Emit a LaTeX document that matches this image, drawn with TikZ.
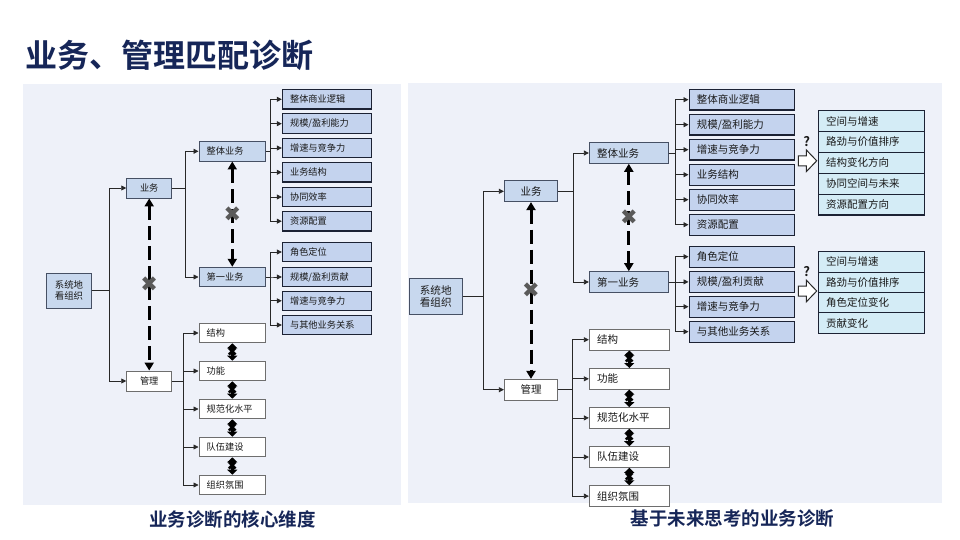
\documentclass[tikz,border=0pt]{standalone}
\usepackage{fontspec}
\setmainfont{Noto Sans CJK SC}[BoldFont={Noto Sans CJK SC Bold}]
\newfontfamily\symf{DejaVu Sans}
\usetikzlibrary{arrows.meta}
\definecolor{panelC}{RGB}{238,241,249}
\definecolor{titleC}{RGB}{22,38,88}
\definecolor{leafF}{RGB}{196,211,238}
\definecolor{leafD}{RGB}{28,34,52}
\definecolor{midF}{RGB}{200,216,238}
\definecolor{midD}{RGB}{70,80,100}
\definecolor{wD}{RGB}{110,110,110}
\definecolor{cyanF}{RGB}{212,236,246}
\definecolor{lineC}{RGB}{40,40,40}
\definecolor{xC}{RGB}{90,90,90}
\definecolor{txtC}{RGB}{25,25,25}
\tikzset{
  fL/.style={font=\fontsize{9.2}{11.7}\selectfont, text=txtC},
  fR/.style={font=\fontsize{10.5}{12.5}\selectfont, text=txtC},
  leafbox/.style={draw=leafD, fill=leafF, line width=1.1pt, inner ysep=0pt, inner xsep=7.7pt, align=left},
  midbox/.style={draw=midD, fill=midF, line width=0.9pt, inner ysep=0pt, inner xsep=7.7pt, align=left},
  whitebox/.style={draw=wD, fill=white, line width=0.9pt, inner ysep=0pt, inner xsep=7.7pt, align=left},
  cyanbox/.style={draw=leafD, fill=cyanF, line width=1.1pt, inner ysep=0pt, inner xsep=7.7pt, align=left},
  leafL/.style={leafbox, fL, minimum height=19.5pt, text width=73.9pt},
  midL/.style={midbox, fL, minimum height=19.5pt, text width=51.3pt},
  ctrL/.style={midbox, fL, minimum height=20pt, minimum width=45pt, inner xsep=0pt, align=center},
  whL/.style={whitebox, fL, minimum height=19.7pt, text width=51.3pt},
  whctrL/.style={whitebox, fL, minimum height=20pt, minimum width=45pt, inner xsep=0pt, align=center},
  leafR/.style={leafbox, fR, minimum height=20.7pt, text width=89.9pt},
  midR/.style={midbox, fR, minimum height=20.7pt, text width=63.6pt},
  ctrR/.style={midbox, fR, minimum height=20.7pt, minimum width=53.3pt, inner xsep=0pt, align=center},
  whR/.style={whitebox, fR, minimum height=20.7pt, text width=64.6pt},
  whctrR/.style={whitebox, fR, minimum height=20.7pt, minimum width=53.3pt, inner xsep=0pt, align=center},
  cyR/.style={cyanbox, fR, text width=90.6pt},
  conn/.style={draw=lineC, line width=0.8pt, -{Triangle[length=5pt,width=5pt]}},
  dasharrow/.style={draw=black, line width=3pt, dash pattern=on 14pt off 6pt,
     {Triangle[length=8pt,width=9pt]}-{Triangle[length=8pt,width=9pt]}},
  dblarrow/.style={draw=black, line width=3.2pt,
     {Triangle[length=5pt,width=10pt]}-{Triangle[length=5pt,width=10pt]}},
  xmark/.style={font=\symf\fontsize{21}{21}\selectfont, text=xC, inner sep=0pt},
  smallx/.style={font=\symf\fontsize{13}{13}\selectfont, text=black, inner sep=0pt},
  qmark/.style={font=\fontsize{13}{13}\selectfont\bfseries, text=txtC, inner sep=0pt},
  subtitle/.style={font=\fontsize{18.5}{20}\selectfont\bfseries, text=titleC, inner sep=0pt},
  blockarrow/.style={draw=lineC, line width=1pt, fill=white, line join=miter}
}
\begin{document}
\begin{tikzpicture}[x=1pt,y=-1pt]
\useasboundingbox (0,0) rectangle (960,540);
\fill[white] (0,0) rectangle (960,540);
\fill[panelC] (23.3,84) rectangle (401.3,505);
\fill[panelC] (408.3,83.3) rectangle (941.7,503.3);

\node[anchor=west, font=\fontsize{32}{36}\selectfont\bfseries, text=titleC, inner sep=0pt] (title) at (25,55) {业务、管理匹配诊断};

% ---------------- LEFT PANEL ----------------
\node[ctrL, minimum width=44.3pt, minimum height=35pt, font=\fontsize{9.4}{11.7}\selectfont] (Lsys) at (69,290.5) {系统地\\看组织};
\node[ctrL] (Lyw) at (149.2,188) {业务};
\node[whctrL] (Lgl) at (149.2,381) {管理};
\node[midL] (Lzt) at (232.3,151.3) {整体业务};
\node[midL] (Ldy) at (232.3,277) {第一业务};

\node[leafL] (La1) at (327,99.3) {整体商业逻辑};
\node[leafL] (La2) at (327,123.7) {规模/盈利能力};
\node[leafL] (La3) at (327,148) {增速与竞争力};
\node[leafL] (La4) at (327,172.3) {业务结构};
\node[leafL] (La5) at (327,197) {协同效率};
\node[leafL] (La6) at (327,221.2) {资源配置};
\node[leafL] (Lb1) at (327,252) {角色定位};
\node[leafL] (Lb2) at (327,277) {规模/盈利贡献};
\node[leafL] (Lb3) at (327,300.8) {增速与竞争力};
\node[leafL] (Lb4) at (327,325) {与其他业务关系};

\node[whL] (Lc1) at (232.3,333) {结构};
\node[whL] (Lc2) at (232.3,371) {功能};
\node[whL] (Lc3) at (232.3,409) {规范化水平};
\node[whL] (Lc4) at (232.3,447) {队伍建设};
\node[whL] (Lc5) at (232.3,485) {组织氛围};

\draw[conn] (Lsys.east) -- ++(17.8,0) |- (Lyw.west);
\draw[conn] (Lsys.east) -- ++(17.8,0) |- (Lgl.west);
\draw[conn] (Lyw.east) -- ++(13.3,0) |- (Lzt.west);
\draw[conn] (Lyw.east) -- ++(13.3,0) |- (Ldy.west);
\foreach \i in {1,...,6} \draw[conn] (Lzt.east) -- ++(4.3,0) |- (La\i.west);
\foreach \i in {1,...,4} \draw[conn] (Ldy.east) -- ++(4.3,0) |- (Lb\i.west);
\foreach \i in {1,...,5} \draw[conn] (Lgl.east) -- ++(11.7,0) |- (Lc\i.west);

\draw[dasharrow] (Lyw.south) -- node[xmark] (Lx1) {✖} (Lgl.north);
\draw[dasharrow] (Lzt.south) -- node[xmark] (Lx2) {✖} (Ldy.north);
\draw[dblarrow] (Lc1.south) -- node[smallx] (Ly1) {✖} (Lc2.north);
\draw[dblarrow] (Lc2.south) -- node[smallx] (Ly2) {✖} (Lc3.north);
\draw[dblarrow] (Lc3.south) -- node[smallx] (Ly3) {✖} (Lc4.north);
\draw[dblarrow] (Lc4.south) -- node[smallx] (Ly4) {✖} (Lc5.north);

\node[subtitle] (Lsub) at (232.7,519) {业务诊断的核心维度};

% ---------------- RIGHT PANEL ----------------
\node[ctrR, minimum height=36pt, font=\fontsize{10.6}{12.5}\selectfont] (Rsys) at (435.7,296.3) {系统地\\看组织};
\node[ctrR] (Ryw) at (531,191.3) {业务};
\node[whctrR] (Rgl) at (531,389.7) {管理};
\node[midR] (Rzt) at (628.8,153) {整体业务};
\node[midR] (Rdy) at (628.8,282) {第一业务};

\node[leafR] (Ra1) at (741.7,99.7) {整体商业逻辑};
\node[leafR] (Ra2) at (741.7,124.7) {规模/盈利能力};
\node[leafR] (Ra3) at (741.7,149.7) {增速与竞争力};
\node[leafR] (Ra4) at (741.7,174.7) {业务结构};
\node[leafR] (Ra5) at (741.7,199.7) {协同效率};
\node[leafR] (Ra6) at (741.7,224.7) {资源配置};
\node[leafR] (Rb1) at (741.7,256.7) {角色定位};
\node[leafR] (Rb2) at (741.7,281.9) {规模/盈利贡献};
\node[leafR] (Rb3) at (741.7,306.7) {增速与竞争力};
\node[leafR] (Rb4) at (741.7,331.7) {与其他业务关系};

\node[whR] (Rc1) at (629.3,339.7) {结构};
\node[whR] (Rc2) at (629.3,378.8) {功能};
\node[whR] (Rc3) at (629.3,417.9) {规范化水平};
\node[whR] (Rc4) at (629.3,457) {队伍建设};
\node[whR] (Rc5) at (629.3,496.1) {组织氛围};

\node[cyR, minimum height=20.86pt] (Rd1) at (871.3,121.1) {空间与增速};
\node[cyR, minimum height=20.86pt] (Rd2) at (871.3,142.0) {路劲与价值排序};
\node[cyR, minimum height=20.86pt] (Rd3) at (871.3,162.9) {结构变化方向};
\node[cyR, minimum height=20.86pt] (Rd4) at (871.3,183.7) {协同空间与未来};
\node[cyR, minimum height=20.86pt] (Rd5) at (871.3,204.6) {资源配置方向};
\node[cyR, minimum height=20.4pt] (Re1) at (871.3,261.9) {空间与增速};
\node[cyR, minimum height=20.4pt] (Re2) at (871.3,282.3) {路劲与价值排序};
\node[cyR, minimum height=20.4pt] (Re3) at (871.3,302.7) {角色定位变化};
\node[cyR, minimum height=20.4pt] (Re4) at (871.3,323.1) {贡献变化};

\draw[conn] (Rsys.east) -- ++(21,0) |- (Ryw.west);
\draw[conn] (Rsys.east) -- ++(21,0) |- (Rgl.west);
\draw[conn] (Ryw.east) -- ++(15.6,0) |- (Rzt.west);
\draw[conn] (Ryw.east) -- ++(15.6,0) |- (Rdy.west);
\foreach \i in {1,...,6} \draw[conn] (Rzt.east) -- ++(6.7,0) |- (Ra\i.west);
\foreach \i in {1,...,4} \draw[conn] (Rdy.east) -- ++(6.7,0) |- (Rb\i.west);
\foreach \i in {1,...,5} \draw[conn] (Rgl.east) -- ++(14,0) |- (Rc\i.west);

\draw[dasharrow] (Ryw.south) -- node[xmark] (Rx1) {✖} (Rgl.north);
\draw[dasharrow] (Rzt.south) -- node[xmark] (Rx2) {✖} (Rdy.north);
\draw[dblarrow] (Rc1.south) -- node[smallx] (Ry1) {✖} (Rc2.north);
\draw[dblarrow] (Rc2.south) -- node[smallx] (Ry2) {✖} (Rc3.north);
\draw[dblarrow] (Rc3.south) -- node[smallx] (Ry3) {✖} (Rc4.north);
\draw[dblarrow] (Rc4.south) -- node[smallx] (Ry4) {✖} (Rc5.north);

\coordinate (Rba1) at (798.3,160.8);
\coordinate (Rba2) at (798.3,291);
\draw[blockarrow] (Rba1) ++(0,-5) -- ++(8,0) -- ++(0,-5.85) -- ++(10.4,10.85) -- ++(-10.4,10.85) -- ++(0,-5.85) -- ++(-8,0) -- cycle;
\draw[blockarrow] (Rba2) ++(0,-5) -- ++(8,0) -- ++(0,-5.85) -- ++(10.4,10.85) -- ++(-10.4,10.85) -- ++(0,-5.85) -- ++(-8,0) -- cycle;
\node[qmark] (Rq1) at (806.7,141.7) {?};
\node[qmark] (Rq2) at (806.7,271.7) {?};

\node[subtitle] (Rsub) at (732.5,518) {基于未来思考的业务诊断};
\end{tikzpicture}
\end{document}
